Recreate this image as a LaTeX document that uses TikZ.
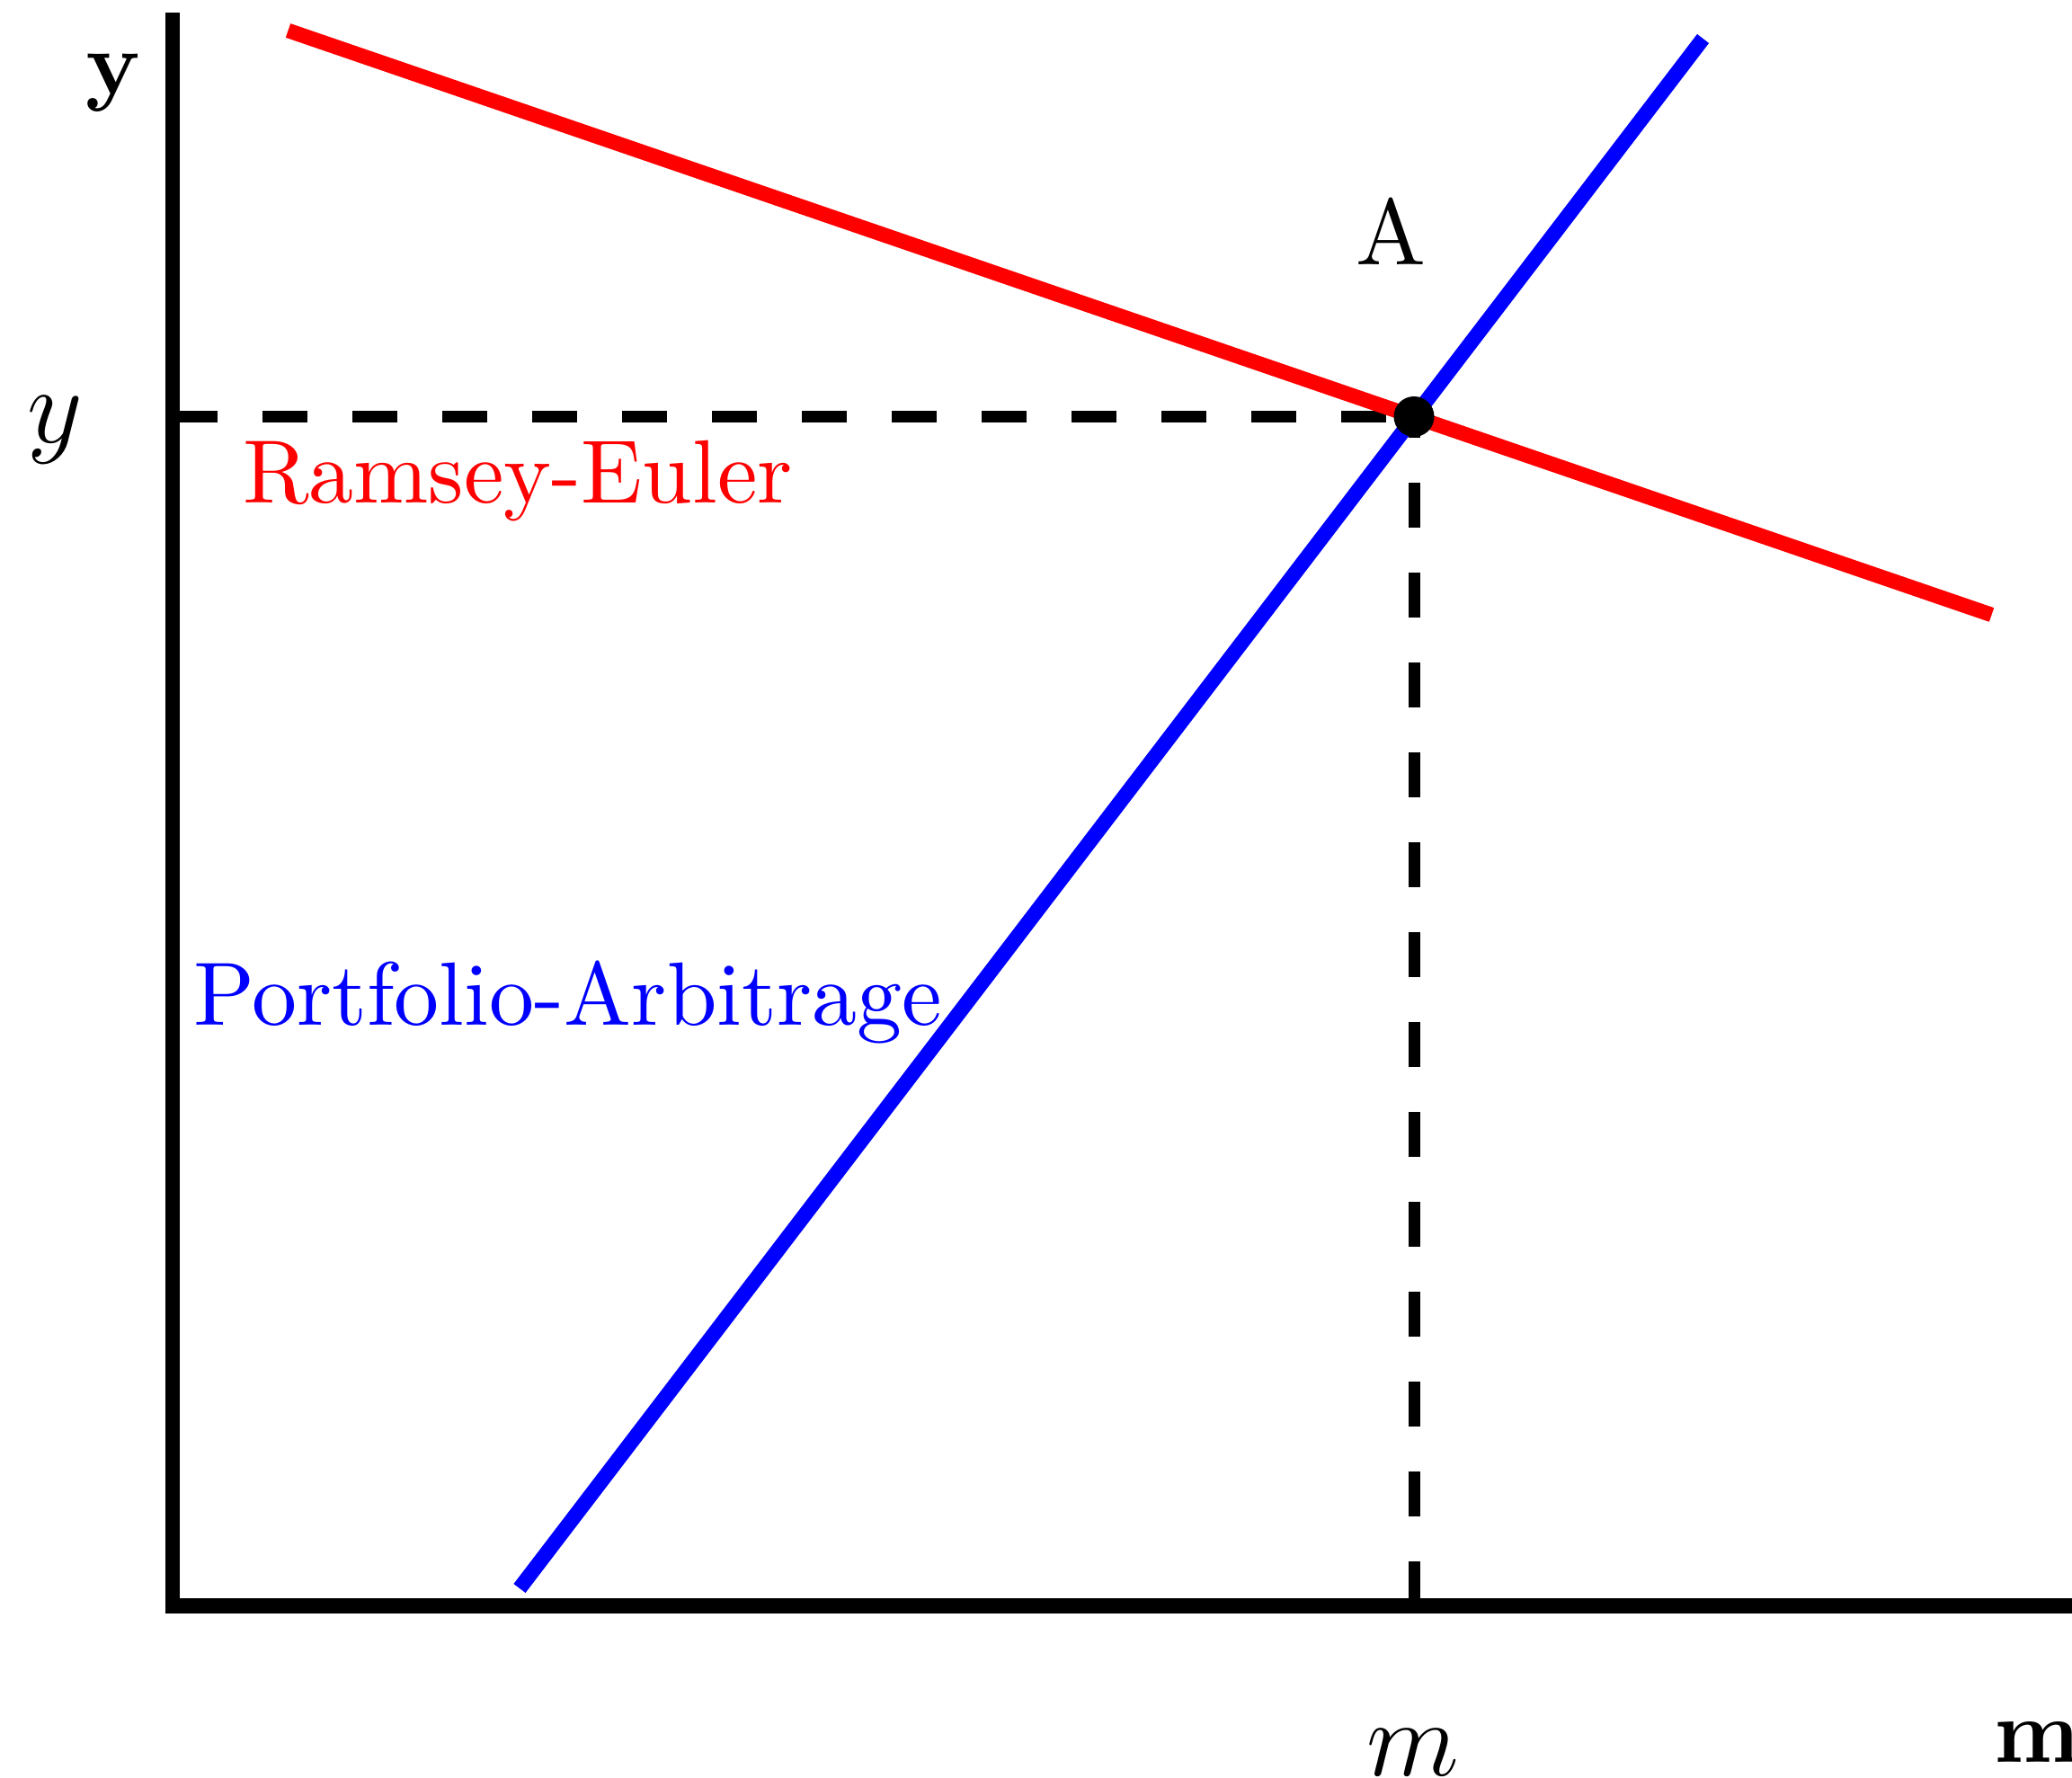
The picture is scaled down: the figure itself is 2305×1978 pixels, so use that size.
\documentclass[tikz,border=0pt]{standalone}
\usetikzlibrary{calc}
\begin{document}
\begin{tikzpicture}[x=0.1pt,y=-0.1pt,
  axisline/.style={line width=1.65pt,black,line join=miter},
  curve/.style={line width=1.65pt},
  guide/.style={line width=1.3pt,black,dash pattern=on 5pt off 5pt},
  lbl/.style={inner sep=0pt,outer sep=0pt},
  biglbl/.style={lbl,font=\fontsize{11.6}{14}\selectfont}]
\useasboundingbox (0,0) rectangle (2305,1978);
% key points
\coordinate (top) at (192,14);
\coordinate (origin) at (192,1786.5);
\coordinate (right) at (2330,1786.5);
\coordinate (A) at (1573,463.5);
\coordinate (yA) at (192,463.5);
\coordinate (mA) at (1573,1786.5);
\coordinate (re1) at (320.5,34);
\coordinate (re2) at (2215.5,684);
\coordinate (pa1) at (578,1767);
\coordinate (pa2) at (1894.5,43);
% guides
\draw[guide] (yA) -- (A);
\draw[guide] (mA) -- (A);
% curves
\draw[curve,blue] (pa1) -- (pa2);
\draw[curve,red] (re1) -- (re2);
% axes
\draw[axisline] (top) -- (origin) -- (right);
% equilibrium point
\fill[black] (A) circle[radius=22.5];
% labels
\node[lbl,anchor=base] (ylab) at (127,105) {$\mathbf{y}$};
\node[biglbl,anchor=base] (ystar) at (61,493) {$y$};
\node[biglbl,anchor=base] (mstar) at (1572,1975) {$m$};
\node[lbl,anchor=base west] (mlab) at (2218,1960) {$\mathbf{m}$};
\node[lbl,anchor=base,font=\fontsize{10.4}{12.5}\selectfont] (Alab) at (1547,295) {A};
\node[lbl,anchor=base west,text=red] (relab) at (270,560) {Ramsey-Euler};
\node[lbl,anchor=base west,text=blue] (palab) at (215,1141) {Portfolio-Arbitrage};
\end{tikzpicture}
\end{document}
